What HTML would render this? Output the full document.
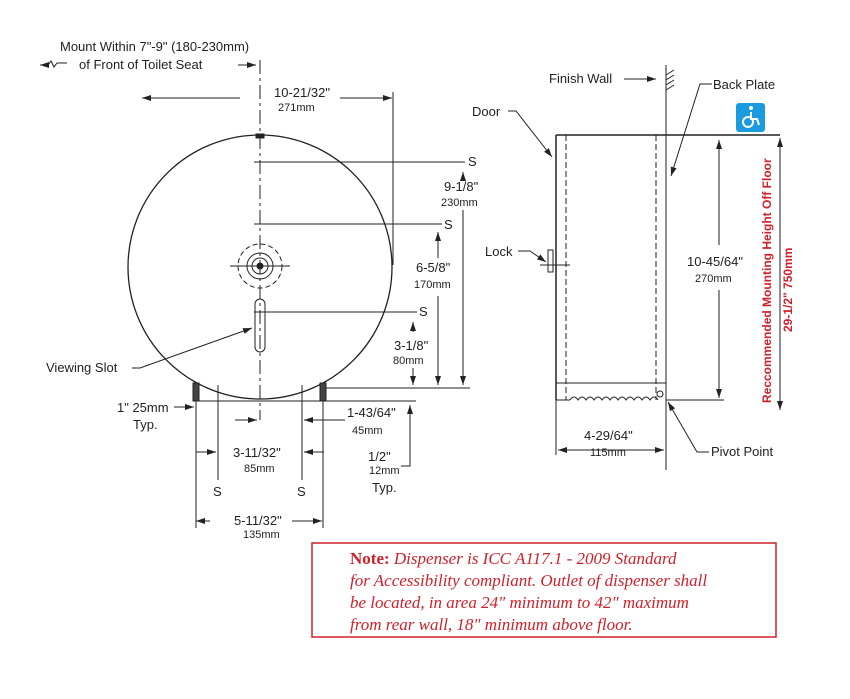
<!DOCTYPE html>
<html><head><meta charset="utf-8"><style>
html,body{margin:0;padding:0;background:#fff;}
svg{display:block;}
text{font-family:"Liberation Sans",sans-serif;fill:#222;}
.n{font-family:"Liberation Serif",serif;fill:#d0202a;font-style:italic;font-size:17px;}
</style></head><body>
<svg width="850" height="699" viewBox="0 0 850 699" xmlns="http://www.w3.org/2000/svg">
<defs>
<marker id="a" markerWidth="10" markerHeight="8" refX="9" refY="4" orient="auto-start-reverse" markerUnits="userSpaceOnUse"><path d="M0,1 L9,4 L0,7 Z" fill="#222"/></marker>
</defs>
<g stroke="#222" stroke-width="1" fill="none">
<line x1="260" y1="60" x2="260" y2="420" stroke-dasharray="14,4,3,4"/>
<line x1="142" y1="98" x2="240" y2="98" marker-start="url(#a)"/>
<line x1="340" y1="98" x2="392" y2="98" marker-end="url(#a)"/>
<line x1="393" y1="92" x2="393" y2="265"/>
<circle cx="260" cy="267" r="132" stroke-width="1.3"/>
<rect x="256" y="134" width="8" height="4" fill="#222"/>
<line x1="254" y1="162" x2="465" y2="162"/>
<line x1="254" y1="224" x2="442" y2="224"/>
<line x1="254" y1="312" x2="417" y2="312"/>
<line x1="463" y1="172" x2="463" y2="178" marker-start="url(#a)"/>
<line x1="463" y1="210" x2="463" y2="385" marker-end="url(#a)"/>
<line x1="438" y1="232" x2="438" y2="258" marker-start="url(#a)"/>
<line x1="438" y1="296" x2="438" y2="385" marker-end="url(#a)"/>
<line x1="413" y1="322" x2="413" y2="332" marker-start="url(#a)"/>
<line x1="413" y1="368" x2="413" y2="385" marker-end="url(#a)"/>
<line x1="325" y1="388" x2="470" y2="388"/>
<line x1="195" y1="401" x2="416" y2="401"/>
<circle cx="260" cy="266" r="22" stroke-dasharray="5,3"/>
<circle cx="260" cy="266" r="13"/>
<circle cx="260" cy="266" r="8"/>
<circle cx="260" cy="266" r="3" fill="#222"/>
<line x1="230" y1="266" x2="290" y2="266"/>
<rect x="255" y="299" width="10" height="53" rx="5"/>
<path d="M132 368 L140 368 L252 328" marker-end="url(#a)"/>
<rect x="193" y="383" width="6" height="18" fill="#444"/>
<rect x="320" y="383" width="6" height="18" fill="#444"/>
<line x1="196" y1="401" x2="196" y2="528"/>
<line x1="323" y1="401" x2="323" y2="528"/>
<line x1="218" y1="385" x2="218" y2="480"/>
<line x1="302" y1="385" x2="302" y2="480"/>
<line x1="174" y1="407" x2="194" y2="407" marker-end="url(#a)"/>
<line x1="196" y1="452" x2="216" y2="452" marker-end="url(#a)"/>
<line x1="324" y1="452" x2="304" y2="452" marker-end="url(#a)"/>
<line x1="235" y1="420" x2="257" y2="420" marker-end="url(#a)"/>
<line x1="345" y1="420" x2="304" y2="420" marker-end="url(#a)"/>
<line x1="210" y1="521" x2="196" y2="521" marker-end="url(#a)"/>
<line x1="292" y1="521" x2="322" y2="521" marker-end="url(#a)"/>
<path d="M401 466 L410 466 L410 405" marker-end="url(#a)"/>
<line x1="666" y1="65" x2="666" y2="470"/>
<path d="M666 75 l8 -5 M666 80 l8 -5 M666 85 l8 -5 M666 90 l8 -5"/>
<line x1="556" y1="135" x2="780" y2="135" stroke-width="1.5"/>
<line x1="556" y1="135" x2="556" y2="400" stroke-width="1.5"/>
<line x1="556" y1="400" x2="570" y2="400"/>
<line x1="566" y1="135" x2="566" y2="400" stroke-dasharray="6,3"/>
<line x1="656" y1="135" x2="656" y2="400" stroke-dasharray="6,3"/>
<line x1="556" y1="383" x2="666" y2="383"/>
<path d="M570 400 q4 -6 8 0 q4 -6 8 0 q4 -6 8 0 q4 -6 8 0 q4 -6 8 0 q4 -6 8 0 q4 -6 8 0 q4 -6 8 0 q4 -6 8 0 q4 -6 8 0 q4 -6 8 0"/>
<circle cx="660" cy="394" r="3"/>
<line x1="666" y1="400" x2="724" y2="400"/>
<rect x="548" y="250" width="5" height="22"/>
<line x1="540" y1="265" x2="570" y2="265"/>
<line x1="556" y1="400" x2="556" y2="455"/>
<line x1="570" y1="450" x2="664" y2="450" marker-end="url(#a)"/>
<line x1="640" y1="450" x2="558" y2="450" marker-end="url(#a)"/>
<line x1="719" y1="140" x2="719" y2="245" marker-start="url(#a)"/>
<line x1="719" y1="290" x2="719" y2="398" marker-end="url(#a)"/>
<line x1="780" y1="138" x2="780" y2="410" marker-start="url(#a)" marker-end="url(#a)"/>
<path d="M624 79 L656 79" marker-end="url(#a)"/>
<path d="M712 84 L700 84 L671 176" marker-end="url(#a)"/>
<path d="M508 111 L516 111 L552 157" marker-end="url(#a)"/>
<path d="M518 251 L530 251 L546 262" marker-end="url(#a)"/>
<path d="M709 452 L697 452 L668 402" marker-end="url(#a)"/>
<path d="M40 65 l8 0 l3 -4 l3 6 l3 -4 l10 0" />
<line x1="46" y1="65" x2="40" y2="65" marker-end="url(#a)"/>
<line x1="238" y1="65" x2="256" y2="65" marker-end="url(#a)"/>
</g>
<text x="60" y="51" font-size="13">Mount Within 7"-9" (180-230mm)</text>
<text x="79" y="69" font-size="13">of Front of Toilet Seat</text>
<text x="274" y="97" font-size="13">10-21/32"</text>
<text x="278" y="111" font-size="11">271mm</text>
<text x="468" y="166" font-size="13">S</text>
<text x="444" y="229" font-size="13">S</text>
<text x="419" y="316" font-size="13">S</text>
<text x="444" y="191" font-size="13">9-1/8"</text>
<text x="441" y="206" font-size="11">230mm</text>
<text x="416" y="272" font-size="13">6-5/8"</text>
<text x="414" y="288" font-size="11">170mm</text>
<text x="394" y="350" font-size="13">3-1/8"</text>
<text x="393" y="364" font-size="11">80mm</text>
<text x="46" y="372" font-size="13">Viewing Slot</text>
<text x="117" y="412" font-size="13">1" 25mm</text>
<text x="133" y="429" font-size="13">Typ.</text>
<text x="347" y="417" font-size="13">1-43/64"</text>
<text x="352" y="434" font-size="11">45mm</text>
<text x="233" y="457" font-size="13">3-11/32"</text>
<text x="244" y="472" font-size="11">85mm</text>
<text x="368" y="461" font-size="13">1/2"</text>
<text x="369" y="474" font-size="11">12mm</text>
<text x="372" y="492" font-size="13">Typ.</text>
<text x="213" y="496" font-size="13">S</text>
<text x="297" y="496" font-size="13">S</text>
<text x="234" y="525" font-size="13">5-11/32"</text>
<text x="243" y="538" font-size="11">135mm</text>
<text x="549" y="83" font-size="13">Finish Wall</text>
<text x="713" y="89" font-size="13">Back Plate</text>
<text x="472" y="116" font-size="13">Door</text>
<text x="485" y="256" font-size="13">Lock</text>
<text x="687" y="266" font-size="13">10-45/64"</text>
<text x="695" y="282" font-size="11">270mm</text>
<text x="584" y="440" font-size="13">4-29/64"</text>
<text x="590" y="456" font-size="11">115mm</text>
<text x="711" y="456" font-size="13">Pivot Point</text>
<text transform="translate(771,403) rotate(-90)" font-size="12" font-weight="bold" style="fill:#d0202a">Reccommended Mounting Height Off Floor</text>
<text transform="translate(792,332) rotate(-90)" font-size="12" font-weight="bold" style="fill:#d0202a">29-1/2" 750mm</text>
<rect x="736" y="103" width="29" height="29" rx="3" fill="#1a9be0"/>
<g stroke="#fff" stroke-width="2" fill="none"><circle cx="748" cy="122" r="5"/><path d="M751 112 l0 7 l6 0 l2 6"/></g>
<circle cx="751" cy="108" r="2" fill="#fff"/>
<rect x="312" y="543" width="464" height="94" fill="none" stroke="#d0202a" stroke-width="1.5"/>
<text class="n" x="350" y="564"><tspan style="font-style:normal;font-weight:bold">Note:</tspan> Dispenser is ICC A117.1 - 2009 Standard</text>
<text class="n" x="350" y="586">for Accessibility compliant. Outlet of dispenser shall</text>
<text class="n" x="350" y="608">be located, in area 24" minimum to 42" maximum</text>
<text class="n" x="350" y="630">from rear wall, 18" minimum above floor.</text>
</svg>
</body></html>
